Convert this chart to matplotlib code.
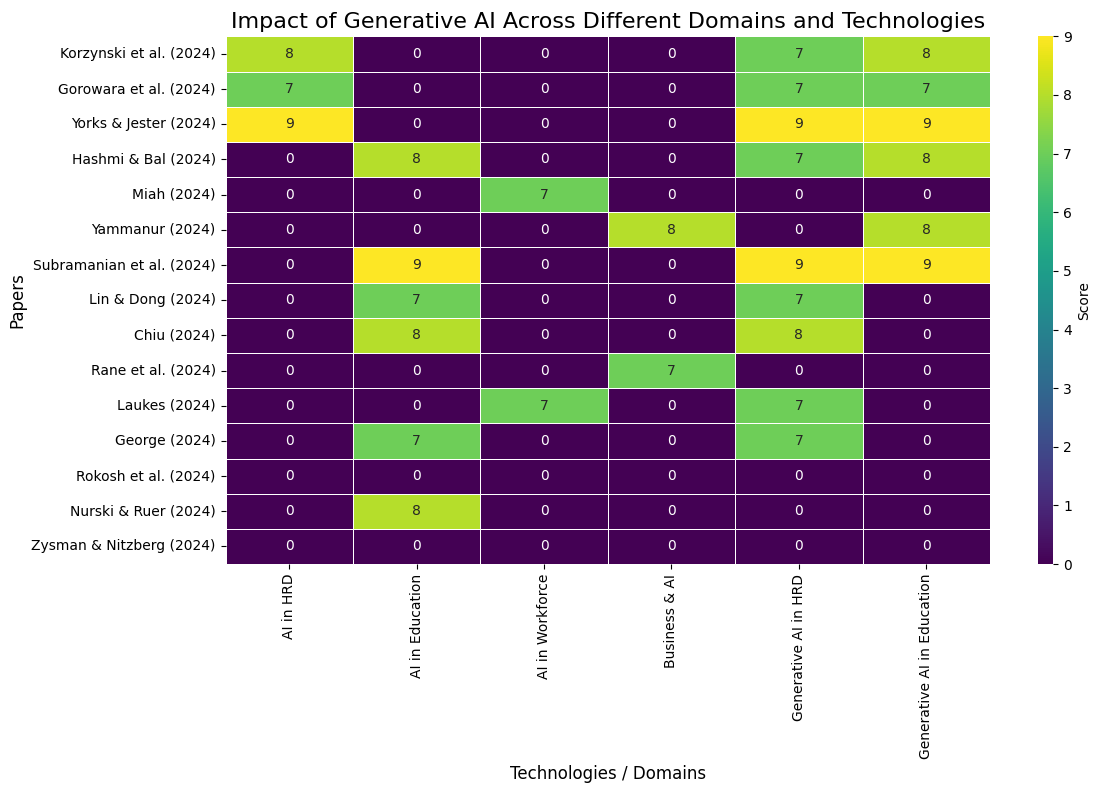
import numpy as np
import pandas as pd
import matplotlib
matplotlib.use("Agg")
import matplotlib.pyplot as plt
import seaborn as sns

papers = ["Korzynski et al. (2024)", "Gorowara et al. (2024)", "Yorks & Jester (2024)",
          "Hashmi & Bal (2024)", "Miah (2024)", "Yammanur (2024)",
          "Subramanian et al. (2024)", "Lin & Dong (2024)", "Chiu (2024)",
          "Rane et al. (2024)", "Laukes (2024)", "George (2024)",
          "Rokosh et al. (2024)", "Nurski & Ruer (2024)", "Zysman & Nitzberg (2024)"]
domains = ["AI in HRD", "AI in Education", "AI in Workforce", "Business & AI",
           "Generative AI in HRD", "Generative AI in Education"]
scores = [
    [8, 0, 0, 0, 7, 8],
    [7, 0, 0, 0, 7, 7],
    [9, 0, 0, 0, 9, 9],
    [0, 8, 0, 0, 7, 8],
    [0, 0, 7, 0, 0, 0],
    [0, 0, 0, 8, 0, 8],
    [0, 9, 0, 0, 9, 9],
    [0, 7, 0, 0, 7, 0],
    [0, 8, 0, 0, 8, 0],
    [0, 0, 0, 7, 0, 0],
    [0, 0, 7, 0, 7, 0],
    [0, 7, 0, 0, 7, 0],
    [0, 0, 0, 0, 0, 0],
    [0, 8, 0, 0, 0, 0],
    [0, 0, 0, 0, 0, 0],
]

df = pd.DataFrame(scores, index=papers, columns=domains)

fig = plt.figure(figsize=(11.11, 7.9), dpi=100)
ax = fig.add_axes([0.203, 0.286, 0.688, 0.668])
cax = fig.add_axes([0.934, 0.286, 0.014, 0.668])
sns.heatmap(df, annot=True, fmt="d", cmap="viridis", linewidths=0.5,
            linecolor="white", ax=ax, cbar_ax=cax, cbar_kws={"label": "Score"})
ax.set_title("Impact of Generative AI Across Different Domains and Technologies", fontsize=16)
ax.set_xlabel("Technologies / Domains", fontsize=12)
ax.set_ylabel("Papers", fontsize=12)
ax.tick_params(axis="x", rotation=90)
ax.tick_params(axis="y", rotation=0)
plt.savefig("out.png")
